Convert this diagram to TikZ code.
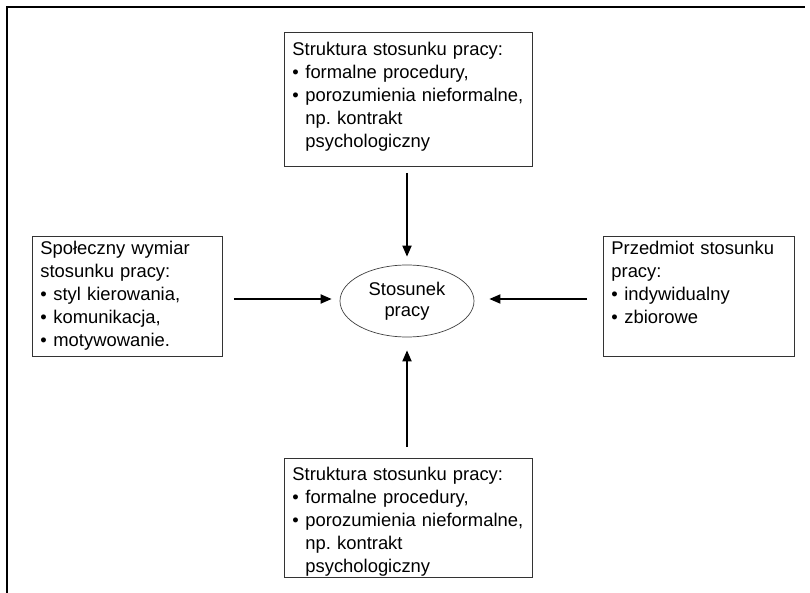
\documentclass[tikz,border=0pt]{standalone}
\usepackage{fontspec}
\setmainfont{Liberation Sans}
\usepackage{tikz}
\usetikzlibrary{arrows.meta, positioning, shapes.geometric}
\newcommand{\pkt}{\makebox[13pt][l]{\textbullet}}
\newcommand{\wc}{\hspace*{13pt}}
\frenchspacing
\tikzset{
  ramka/.style={draw=black!80, line width=0.8pt, anchor=north west, inner xsep=8pt, inner ysep=0pt, align=left},
  owal/.style={draw=black!75, line width=0.7pt, ellipse, minimum width=134pt, minimum height=72pt, inner sep=0pt, align=center},
  strz/.style={-{Triangle[length=11pt,width=9pt]}, line width=1.8pt}
}
\begin{document}
\begin{tikzpicture}[x=1pt, y=-1pt, font=\fontsize{18.4}{23}\selectfont]
\useasboundingbox (0,0) rectangle (810,593);
\draw[line width=2pt] (7,593) -- (7,7) -- (805,7);
\node[ramka, text width=232pt] (gora) at (284,32) {\rule{0pt}{22.7pt}Struktura stosunku pracy:\\ \pkt formalne procedury,\\ \pkt porozumienia nieformalne,\\ \wc np. kontrakt\\ \wc psychologiczny\rule[-19.3pt]{0pt}{19.3pt}};
\node[ramka, text width=232pt] (dol) at (284,458) {\rule{0pt}{22pt}Struktura stosunku pracy:\\ \pkt formalne procedury,\\ \pkt porozumienia nieformalne,\\ \wc np. kontrakt\\ \wc psychologiczny\rule[-5pt]{0pt}{5pt}};
\node[ramka, text width=174pt] (lewy) at (32,236) {\rule{0pt}{17.7pt}Społeczny wymiar\\ stosunku pracy:\\ \pkt styl kierowania,\\ \pkt komunikacja,\\ \pkt motywowanie.\rule[-10.3pt]{0pt}{10.3pt}};
\node[ramka, text width=175pt] (prawy) at (603,236) {\rule{0pt}{18pt}Przedmiot stosunku\\ pracy:\\ \pkt indywidualny\\ \pkt zbiorowe\rule[-33pt]{0pt}{33pt}};
\node[owal, font=\fontsize{18.4}{21}\selectfont] (stosunek) at (407,301) {Stosunek\\ pracy};
\draw[strz, shorten <=6pt, shorten >=8pt] (gora.south -| stosunek) -- (stosunek.north);
\draw[strz, shorten <=11pt, shorten >=13pt] (dol.north -| stosunek) -- (stosunek.south);
\draw[strz, shorten <=11pt, shorten >=8pt] (lewy.east |- 0,299) -- (stosunek.west |- 0,299);
\draw[strz, shorten <=16pt, shorten >=15pt] (prawy.west |- 0,299) -- (stosunek.east |- 0,299);
\end{tikzpicture}
\end{document}
